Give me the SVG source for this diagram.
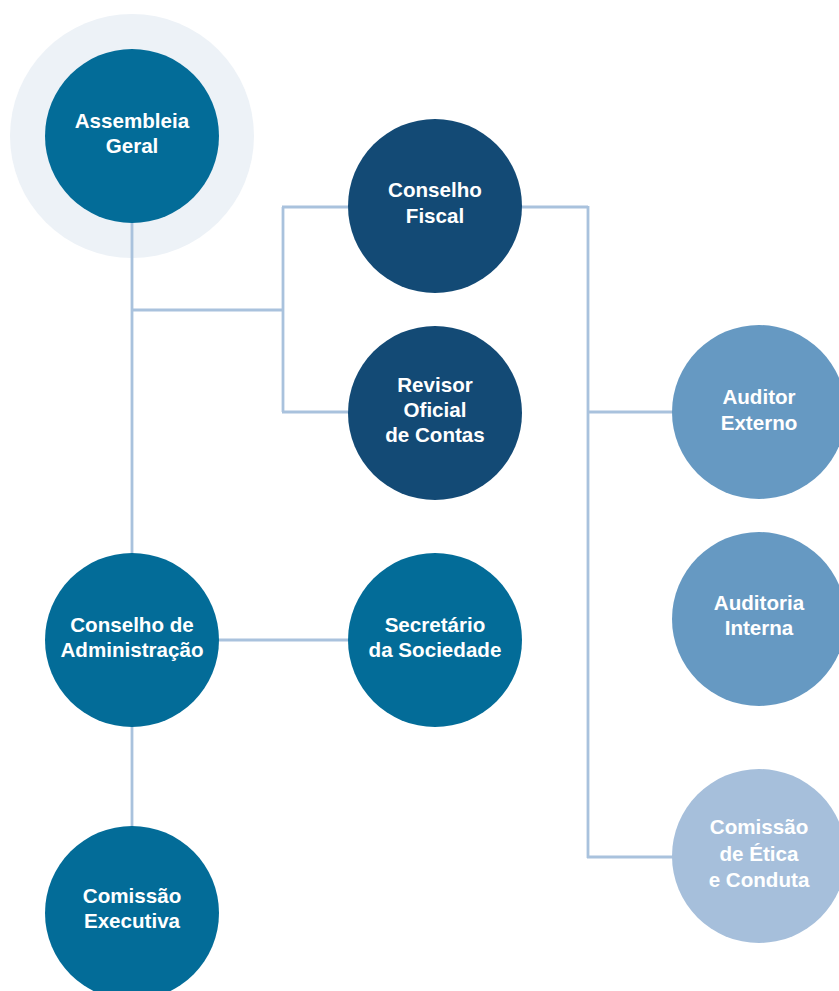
<svg xmlns="http://www.w3.org/2000/svg" width="839" height="991" viewBox="0 0 839 991">
<style>
.bg{fill:#ffffff}
.conn line{stroke:#a9c2dd;stroke-width:2.8;fill:none}
.halo{fill:#edf2f7}
.c1{fill:#036c98}
.c2{fill:#134a75}
.c3{fill:#6699c2}
.c4{fill:#a6bfdb}
text{font-family:"Liberation Sans",Arial,sans-serif;font-weight:bold;font-size:20.6px;fill:#ffffff;text-anchor:middle}
</style>
<rect class="bg" x="0" y="0" width="839" height="991"/>
<circle class="halo" cx="132" cy="136" r="122"/>
<g class="conn">
<line x1="132" y1="200" x2="132" y2="560"/>
<line x1="132" y1="310" x2="283" y2="310"/>
<line x1="283" y1="207" x2="283" y2="412"/>
<line x1="282" y1="207" x2="360" y2="207"/>
<line x1="282" y1="412" x2="360" y2="412"/>
<line x1="510" y1="207" x2="588" y2="207"/>
<line x1="588" y1="206" x2="588" y2="858"/>
<line x1="587" y1="412" x2="680" y2="412"/>
<line x1="587" y1="857" x2="680" y2="857"/>
<line x1="200" y1="640" x2="360" y2="640"/>
<line x1="132" y1="720" x2="132" y2="835"/>
</g>
<g id="assembleia-geral">
<circle class="c1" cx="132" cy="136" r="87"/>
<text x="132" y="128">Assembleia</text>
<text x="132" y="153">Geral</text>
</g>
<g id="conselho-fiscal">
<circle class="c2" cx="435" cy="206" r="87"/>
<text x="435" y="197">Conselho</text>
<text x="435" y="223">Fiscal</text>
</g>
<g id="revisor-oficial">
<circle class="c2" cx="435" cy="413" r="87"/>
<text x="435" y="392">Revisor</text>
<text x="435" y="417">Oficial</text>
<text x="435" y="442">de Contas</text>
</g>
<g id="auditor-externo">
<circle class="c3" cx="759" cy="412" r="87"/>
<text x="759" y="404">Auditor</text>
<text x="759" y="430">Externo</text>
</g>
<g id="auditoria-interna">
<circle class="c3" cx="759" cy="619" r="87"/>
<text x="759" y="610">Auditoria</text>
<text x="759" y="635">Interna</text>
</g>
<g id="comissao-etica">
<circle class="c4" cx="759" cy="856" r="87"/>
<text x="759" y="834">Comissão</text>
<text x="759" y="861">de Ética</text>
<text x="759" y="887">e Conduta</text>
</g>
<g id="conselho-administracao">
<circle class="c1" cx="132" cy="640" r="87"/>
<text x="132" y="632">Conselho de</text>
<text x="132" y="657">Administração</text>
</g>
<g id="secretario-sociedade">
<circle class="c1" cx="435" cy="640" r="87"/>
<text x="435" y="632">Secretário</text>
<text x="435" y="657">da Sociedade</text>
</g>
<g id="comissao-executiva">
<circle class="c1" cx="132" cy="913" r="87"/>
<text x="132" y="903">Comissão</text>
<text x="132" y="928">Executiva</text>
</g>
</svg>
